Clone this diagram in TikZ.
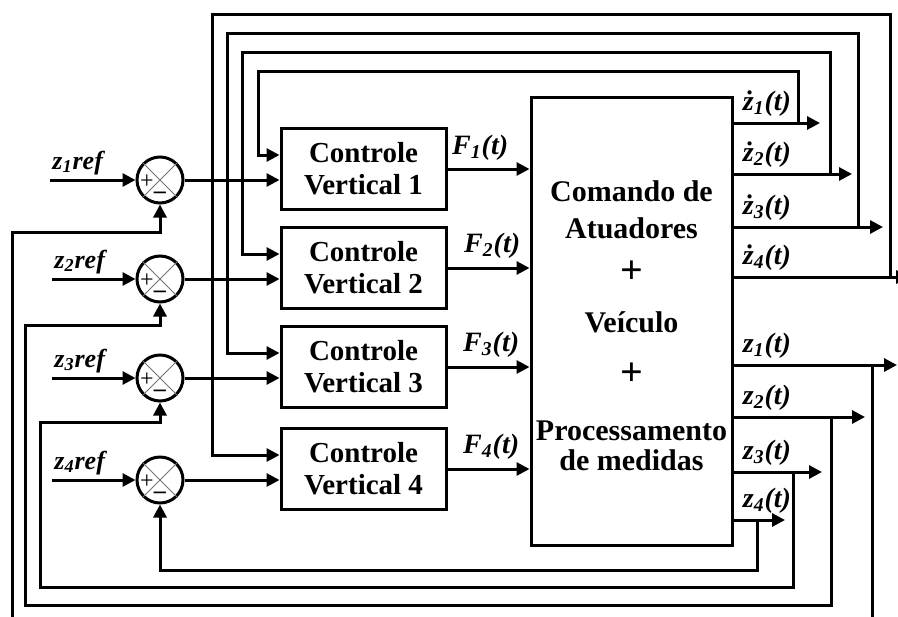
\documentclass[tikz,border=0pt]{standalone}
\usepackage{fontspec}
\setmainfont{Liberation Serif}
\usetikzlibrary{arrows.meta,positioning,calc}
\tikzset{
  wire/.style={line width=1.5pt, draw=black},
  arr/.style={wire, -{Triangle[length=6.5pt,width=6.5pt]}},
  ctrl/.style={draw, line width=1.5pt, minimum width=82.5pt, minimum height=40.5pt, align=center, inner sep=1pt, font=\fontsize{14.5}{16}\selectfont\bfseries},
  plant/.style={draw, line width=1.5pt, minimum width=100.5pt, minimum height=224pt, align=center, inner sep=1pt, font=\fontsize{15}{16.5}\selectfont\bfseries},
  sum/.style={circle, draw, line width=1.5pt, minimum size=23pt, inner sep=0pt},
  cross/.style={draw=black!55, line width=0.4pt},
  sgn/.style={inner sep=0pt, font=\fontsize{12}{12}\selectfont},
  sig/.style={inner sep=1pt, font=\fontsize{14}{16}\selectfont\bfseries\itshape},
  refl/.style={inner sep=1pt, font=\fontsize{13}{15}\selectfont\bfseries\itshape}
}
\newcommand{\bigplus}{{\fontsize{20}{16.5}\selectfont +}}
\begin{document}
\begin{tikzpicture}[x=0.5pt,y=-0.5pt]
\useasboundingbox (0,0) rectangle (898,616);
% blocks
\node[plant] (plant) at (631.5,321) {\mbox{}\\[-1pt]Comando de\\[2pt]Atuadores\\[6pt]\bigplus\\[8pt]Veículo\\[10pt]\bigplus\\[11pt]Processamento\\[-1.5pt]de medidas};
\node[ctrl] (c1) at (363.5,169) {Controle\\Vertical 1};
\node[ctrl] (c2) at (363.5,268) {Controle\\Vertical 2};
\node[ctrl] (c3) at (363.5,367) {Controle\\Vertical 3};
\node[ctrl] (c4) at (363.5,469) {Controle\\Vertical 4};
% summing junctions
\node[sum] (s1) at (160,180) {};
\node[sum] (s2) at (160,279) {};
\node[sum] (s3) at (160,378) {};
\node[sum] (s4) at (160,480) {};
\foreach \s in {s1,s2,s3,s4} {
  \draw[cross] (\s.north west) -- (\s.south east) (\s.north east) -- (\s.south west);
  \node[sgn] (\s p) at ($(\s)+(-13,2)$) {+};
  \node[sgn] (\s m) at ($(\s)+(0,15)$) {\textbf{–}};
}
% references
\coordinate (r1) at (50,180);
\coordinate (r2) at (52,279);
\coordinate (r3) at (52,378);
\coordinate (r4) at (52,480);
\foreach \i in {1,...,4} {
  \draw[arr] (r\i) -- (s\i.west);
  \node[refl, anchor=south west] (lr\i) at ($(r\i)+(0,-3)$) {z\textsubscript{\i}ref};
  \draw[arr] (s\i.east) -- (s\i.east -| c\i.west);
  \draw[arr] (c\i.east) -- (c\i.east -| plant.west);
}
\node[sig, anchor=south east] (f1) at ($(c1.east -| plant.west)+(-19,-6)$) {F\textsubscript{1}(t)};
\node[sig, anchor=south east] (f2) at ($(c2.east -| plant.west)+(-7,-7)$) {F\textsubscript{2}(t)};
\node[sig, anchor=south east] (f3) at ($(c3.east -| plant.west)+(-8,-7)$) {F\textsubscript{3}(t)};
\node[sig, anchor=south east] (f4) at ($(c4.east -| plant.west)+(-8,-7)$) {F\textsubscript{4}(t)};
% outputs
\coordinate (dz1) at (820,123);
\coordinate (dz2) at (852,174);
\coordinate (dz3) at (883,227);
\coordinate (dz4) at (909,277);
\coordinate (zz1) at (897,365);
\coordinate (zz2) at (865,417);
\coordinate (zz3) at (822,472);
\coordinate (zz4) at (785,520);
\foreach \n in {dz,zz} \foreach \i in {1,...,4} \draw[arr] (plant.east |- \n\i) -- (\n\i);
\node[sig, anchor=south west] (ld1) at ($(plant.east |- dz1)+(7,-4)$) {ż\textsubscript{1}(t)};
\node[sig, anchor=south west] (ld2) at ($(plant.east |- dz2)+(7,-4)$) {ż\textsubscript{2}(t)};
\node[sig, anchor=south west] (ld3) at ($(plant.east |- dz3)+(7,-4)$) {ż\textsubscript{3}(t)};
\node[sig, anchor=south west] (ld4) at ($(plant.east |- dz4)+(7,-4)$) {ż\textsubscript{4}(t)};
\node[sig, anchor=south west] (lz1) at ($(plant.east |- zz1)+(7,-4)$) {z\textsubscript{1}(t)};
\node[sig, anchor=south west] (lz2) at ($(plant.east |- zz2)+(7,-4)$) {z\textsubscript{2}(t)};
\node[sig, anchor=south west] (lz3) at ($(plant.east |- zz3)+(7,-4)$) {z\textsubscript{3}(t)};
\node[sig, anchor=south west] (lz4) at ($(plant.east |- zz4)+(7,-4)$) {z\textsubscript{4}(t)};
% velocity feedback (top)
\coordinate (bd1) at (798,123);
\coordinate (bd2) at (830,174);
\coordinate (bd3) at (858,227);
\coordinate (bd4) at (890,277);
\draw[arr] (bd1) |- (258,71) |- ($(c1.west)+(0,-14)$);
\draw[arr] (bd2) |- (242,52) |- ($(c2.west)+(0,-14)$);
\draw[arr] (bd3) |- (227,33) |- ($(c3.west)+(0,-14)$);
\draw[arr] (bd4) |- (212,14) |- ($(c4.west)+(0,-14)$);
% position feedback (bottom)
\coordinate (bz1) at (872,365);
\coordinate (bz2) at (831,417);
\coordinate (bz3) at (793,472);
\coordinate (bz4) at (757,520);
\draw[arr] (bz1) |- (12,625) -- (12,232) -| (s1.south);
\draw[arr] (bz2) |- (25,605) -- (25,325) -| (s2.south);
\draw[arr] (bz3) |- (40,587) -- (40,422) -| (s3.south);
\draw[arr] (bz4) -- (757,570) -| (s4.south);
\end{tikzpicture}
\end{document}
